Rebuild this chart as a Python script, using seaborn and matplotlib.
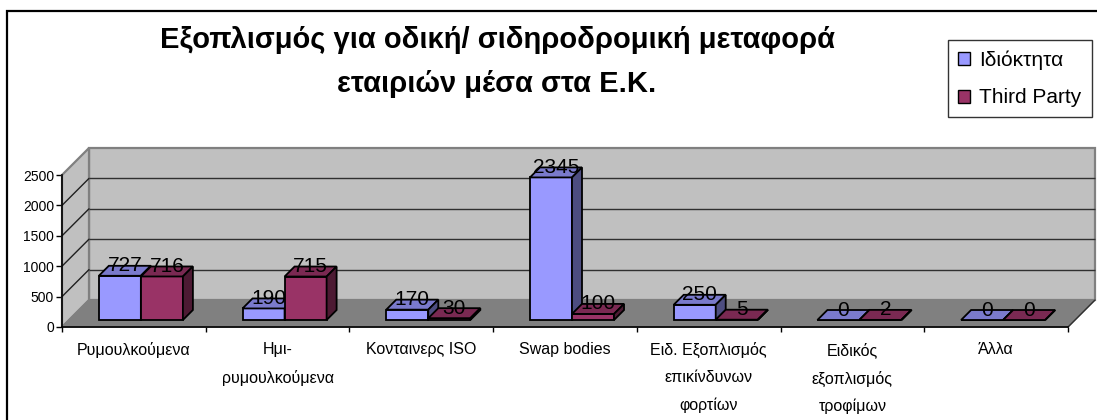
import numpy as np
import pandas as pd
import matplotlib
matplotlib.use("Agg")
import matplotlib.pyplot as plt
import seaborn as sns
from matplotlib.patches import Polygon, Rectangle, Patch
from matplotlib.lines import Line2D
from matplotlib.transforms import offset_copy, IdentityTransform

# ---- data -----------------------------------------------------------------
categories = [
    "Ρυμουλκούμενα",
    "Ημι-\nρυμουλκούμενα",
    "Κονταινερς ISO",
    "Swap bodies",
    "Ειδ. Εξοπλισμός\nεπικίνδυνων\nφορτίων",
    "Ειδικός\nεξοπλισμός\nτροφίμων",
    "Άλλα",
]
series = ["Ιδιόκτητα", "Third Party"]
owned = [727, 190, 170, 2345, 250, 0, 0]
third_party = [716, 715, 30, 100, 5, 2, 0]
y_ticks = [0, 500, 1000, 1500, 2000, 2500]
title_lines = ["Εξοπλισμός για οδική/ σιδηροδρομική μεταφορά",
               "εταιριών μέσα στα Ε.Κ."]

front_colors = {"Ιδιόκτητα": "#9999FF", "Third Party": "#993366"}
top_colors = {"Ιδιόκτητα": "#7A7ACC", "Third Party": "#7A2952"}
side_colors = {"Ιδιόκτητα": "#4D4D80", "Third Party": "#4D1A33"}

df = pd.DataFrame({
    "category": categories * 2,
    "series": [series[0]] * len(categories) + [series[1]] * len(categories),
    "value": owned + third_party,
})

# ---- style ----------------------------------------------------------------
sns.set_style("white")
plt.rcParams["font.family"] = ["Liberation Sans", "DejaVu Sans"]
plt.rcParams["text.color"] = "black"
plt.rcParams["xtick.color"] = "black"
plt.rcParams["ytick.color"] = "black"
plt.rcParams["axes.labelcolor"] = "black"

W, H, DPI = 1097, 420, 100
fig = plt.figure(figsize=(W / DPI, H / DPI), dpi=DPI)
fig.patch.set_facecolor("white")

# the axes is the front plane of the 3-D box
ax = fig.add_axes([62 / W, (H - 327) / H, 1006 / W, 152 / H])
ax.patch.set_visible(False)

DEPTH = 27      # depth of the box, in pixels
BAR_D0 = 7      # distance of the bar fronts behind the front plane
BAR_D = 10      # bar thickness

sns.barplot(data=df, x="category", y="value", hue="series", order=categories,
            hue_order=series, palette=front_colors, saturation=1, width=0.585,
            edgecolor="black", linewidth=1.3, legend=False, ax=ax)
bars = sorted([p for p in ax.patches if isinstance(p, Rectangle)],
              key=lambda p: p.get_x())

n = len(categories)
ax.set_xlim(-0.5, n - 0.5)
ax.set_ylim(y_ticks[0], y_ticks[-1])
ax.set_xlabel("")
ax.set_ylabel("")


def to_px(x, y, d=0.0):
    px, py = ax.transData.transform((x, y))
    return (px + d, py + d)


def poly(points, **kw):
    p = Polygon(points, closed=True, transform=IdentityTransform(),
                clip_on=False, **kw)
    ax.add_patch(p)
    return p


x0, x1 = -0.5, n - 0.5
ymax = y_ticks[-1]

# back wall
back = offset_copy(ax.transData, fig=fig, x=DEPTH, y=DEPTH, units="dots")
ax.add_patch(Rectangle((x0, 0), x1 - x0, ymax, transform=back, clip_on=False,
                       facecolor="#C0C0C0", edgecolor="#808080", lw=1.6,
                       zorder=0.5))
# left side wall
poly([to_px(x0, 0), to_px(x0, ymax), to_px(x0, ymax, DEPTH), to_px(x0, 0, DEPTH)],
     facecolor="#C0C0C0", edgecolor="#808080", lw=1.6, zorder=0.6)
# floor
poly([to_px(x0, 0), to_px(x1, 0), to_px(x1, 0, DEPTH), to_px(x0, 0, DEPTH)],
     facecolor="#808080", edgecolor="#808080", lw=1.0, zorder=0.7)
ax.add_line(Line2D(*zip(to_px(x1, 0), to_px(x1, 0, DEPTH)),
                   transform=IdentityTransform(), color="#303030", lw=1.0,
                   clip_on=False, zorder=0.8))

# grid lines on the back wall and the side wall
for t in y_ticks[1:-1]:
    ax.hlines(t, x0, x1, transform=back, colors="#303030", lw=1.0,
              clip_on=False, zorder=0.9)
for t in y_ticks[1:-1]:
    ax.add_line(Line2D(*zip(to_px(x0, t), to_px(x0, t, DEPTH)),
                       transform=IdentityTransform(), color="#202020", lw=1.0,
                       clip_on=False, zorder=0.9))

# bars: seaborn front faces pushed back into the box, plus top and side faces
bar_trans = offset_copy(ax.transData, fig=fig, x=BAR_D0, y=BAR_D0, units="dots")
label_trans = offset_copy(ax.transData, fig=fig, x=BAR_D0 + BAR_D / 2,
                          y=BAR_D0 + 4.5, units="dots")
owned_rgb = matplotlib.colors.to_rgb(front_colors[series[0]])
z = 3.0
for p in bars:
    bx0 = p.get_x()
    bx1 = bx0 + p.get_width()
    h = p.get_height()
    key = series[0] if np.allclose(p.get_facecolor()[:3], owned_rgb) else series[1]
    p.set_transform(bar_trans)
    p.set_clip_on(False)
    p.set_zorder(z)
    a, b = BAR_D0, BAR_D0 + BAR_D
    poly([to_px(bx0, h, a), to_px(bx1, h, a), to_px(bx1, h, b), to_px(bx0, h, b)],
         facecolor=top_colors[key], edgecolor="black", lw=1.3, zorder=z + 0.1)
    poly([to_px(bx1, 0, a), to_px(bx1, h, a), to_px(bx1, h, b), to_px(bx1, 0, b)],
         facecolor=side_colors[key], edgecolor="black", lw=1.3, zorder=z + 0.2)
    ax.text((bx0 + bx1) / 2, h, f"{int(round(h))}", transform=label_trans,
            ha="center", va="baseline", fontsize=15, color="black",
            zorder=50, clip_on=False)
    z += 1

# axes lines and ticks
for side in ["top", "right"]:
    ax.spines[side].set_visible(False)
for side in ["left", "bottom"]:
    ax.spines[side].set_color("black")
    ax.spines[side].set_linewidth(1.2)
    ax.spines[side].set_zorder(2.5)

ax.set_yticks(y_ticks)
ax.set_yticklabels([str(t) for t in y_ticks])
ax.tick_params(axis="y", which="major", left=True, length=4.3, width=1.0,
               color="black", labelcolor="black", direction="out",
               labelsize=10, pad=1.5)

ax.set_xticks(np.arange(-0.5, n, 1.0))
ax.set_xticklabels([])
ax.set_xticks(np.arange(n), minor=True)
ax.set_xticklabels(categories, minor=True, fontsize=11.5, linespacing=1.97,
                   color="black")
ax.tick_params(axis="x", which="major", bottom=True, length=3.6, width=1.0,
               color="black", direction="out")
ax.tick_params(axis="x", which="minor", bottom=True, length=0, pad=11)

# title, two centred lines
for i, line in enumerate(title_lines):
    fig.text(497 / W, 1 - (48 + 44 * i) / H, line, ha="center", va="baseline",
             fontsize=21, fontweight="bold", color="black")

# legend
handles = [Patch(facecolor=front_colors[s], edgecolor="black", lw=1.0) for s in series]
leg = fig.legend(handles, series, loc="upper left",
                 bbox_to_anchor=(948 / W, 1 - 40 / H), borderaxespad=0,
                 fontsize=15, frameon=True, fancybox=False, shadow=False,
                 handlelength=0.58, handleheight=0.58, handletextpad=0.45,
                 borderpad=0.48, labelspacing=0.91, labelcolor="black")
leg.get_frame().set_edgecolor("black")
leg.get_frame().set_linewidth(1.0)
leg.get_frame().set_facecolor("white")

# outer chart border
fig.add_artist(Rectangle((6.5 / W, -0.1), 1.2, (H - 10.5) / H + 0.1,
                         transform=fig.transFigure, fill=False,
                         edgecolor="black", lw=1.6))

fig.savefig("out.png", dpi=DPI)
